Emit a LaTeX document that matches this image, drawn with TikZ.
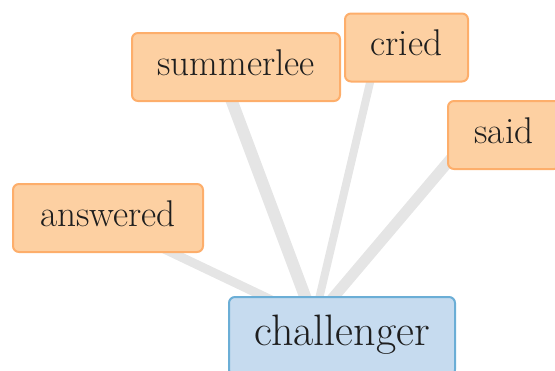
\documentclass[tikz,border=0pt]{standalone}
\usetikzlibrary{backgrounds}
\definecolor{ofill}{HTML}{FDD0A2}
\definecolor{oline}{HTML}{FDAE6B}
\definecolor{bfill}{HTML}{C6DBEF}
\definecolor{bline}{HTML}{6BAED6}
\definecolor{edgegray}{HTML}{E5E5E5}
\definecolor{txt}{HTML}{1E1E1E}
\begin{document}
\begin{tikzpicture}[x=1pt,y=-1pt,
  word/.style={draw=oline, fill=ofill, line width=2pt, rounded corners=6pt,
    inner xsep=0pt, inner ysep=0pt, minimum height=68pt,
    text height=16pt, text depth=0pt, text=txt,
    font=\fontsize{37.2}{44}\selectfont},
  hubword/.style={word, draw=bline, fill=bfill, minimum height=78.6pt,
    text height=18pt, font=\fontsize{44}{52}\selectfont},
  link/.style={draw=edgegray, line cap=butt}]
\useasboundingbox (0,0) rectangle (555,370);
\node[word, minimum width=208pt] (summerlee) at (236,67) {summerlee};
\node[word, minimum width=123pt] (cried) at (406.5,47.5) {cried};
\node[word, minimum width=112pt] (said) at (504,135) {said};
\node[word, minimum width=190pt] (answered) at (108,218) {answered};
\node[hubword, minimum width=226pt] (challenger) at (342,336.3) {challenger};
\coordinate (hub) at ([shift={(-28,-16)}]challenger.center);
\begin{pgfonlayer}{background}
\draw[link, line width=12pt] (hub) -- ([shift={(-17,0)}]summerlee.center);
\draw[link, line width=8pt] (hub) -- ([shift={(-28,-1)}]cried.center);
\draw[link, line width=11pt] (hub) -- ([shift={(-33,0)}]said.center);
\draw[link, line width=9pt] (hub) -- ([shift={(-9,0)}]answered.center);
\end{pgfonlayer}
\end{tikzpicture}
\end{document}
